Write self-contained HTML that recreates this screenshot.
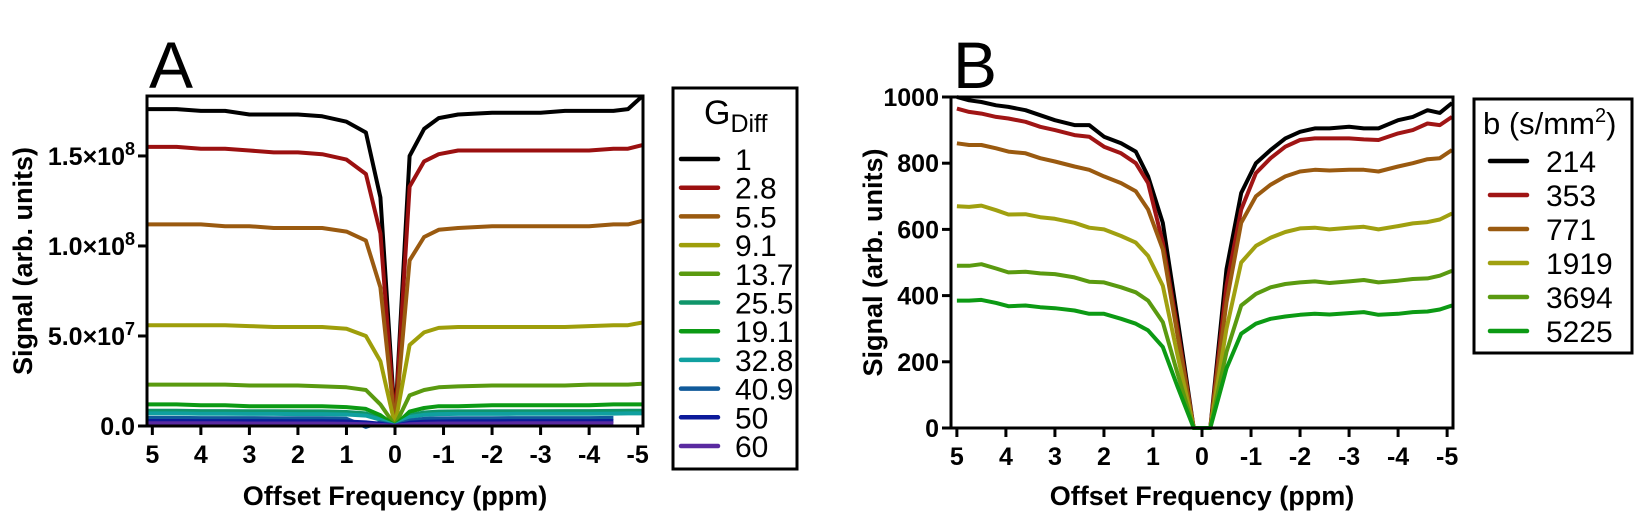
<!DOCTYPE html>
<html><head><meta charset="utf-8"><style>
html,body{margin:0;padding:0;background:#fff}
svg{display:block}
text{font-family:"Liberation Sans",Arial,sans-serif}
.tk{font-weight:bold;font-size:25px}
.ttl{font-weight:bold;font-size:27px}
.lg{font-size:30px}
</style></head><body>
<svg id="c" width="1641" height="521" viewBox="0 0 1641 521">
<g id="gA"></g>
<g id="gB"></g>
</svg>
<script>
// ---------- Panel A data ----------
const xA=[5.1,4.5,4,3.5,3,2.5,2,1.5,1,0.6,0.3,0,-0.3,-0.6,-0.9,-1.3,-2,-2.5,-3,-3.5,-4,-4.5,-4.8,-5.1];
const namesA=["1","2.8","5.5","9.1","13.7","25.5","19.1","32.8","40.9","50","60"];
const colorsA=["#000000","#9b1010","#9a5a10","#9e9e0a","#5a9a10","#10956a","#0c9a14","#10a0a0","#105a9a","#0c1a9a","#5a2aa0"];
const sA1=[1.76,1.76,1.75,1.75,1.73,1.73,1.73,1.72,1.69,1.63,1.27,0.02,1.50,1.65,1.71,1.73,1.74,1.74,1.74,1.75,1.75,1.75,1.76,1.84];
const sA2=[1.55,1.55,1.54,1.54,1.53,1.52,1.52,1.51,1.48,1.40,1.07,0.01,1.33,1.47,1.51,1.53,1.53,1.53,1.53,1.53,1.53,1.54,1.54,1.56];
const sA3=[1.12,1.12,1.12,1.11,1.11,1.10,1.10,1.10,1.08,1.03,0.77,0.01,0.92,1.05,1.09,1.10,1.11,1.11,1.11,1.11,1.11,1.12,1.12,1.14];
const sA4=[0.56,0.56,0.56,0.56,0.555,0.55,0.55,0.55,0.54,0.50,0.36,0.005,0.45,0.52,0.545,0.55,0.55,0.55,0.55,0.55,0.555,0.56,0.56,0.575];
const sA5=[0.23,0.23,0.23,0.23,0.225,0.225,0.225,0.22,0.215,0.20,0.12,0.003,0.17,0.20,0.215,0.22,0.225,0.225,0.225,0.225,0.23,0.23,0.23,0.235];
const sA6=[0.085,0.085,0.083,0.083,0.082,0.082,0.081,0.081,0.078,0.07,0.04,0.002,0.06,0.075,0.08,0.081,0.082,0.082,0.082,0.083,0.083,0.084,0.085,0.085];
const sA7=[0.12,0.12,0.115,0.115,0.11,0.11,0.11,0.11,0.105,0.095,0.06,0.002,0.08,0.10,0.11,0.11,0.115,0.115,0.115,0.115,0.115,0.12,0.12,0.12];
const sA8=[0.07,0.07,0.068,0.068,0.067,0.067,0.066,0.066,0.064,0.058,0.035,0.002,0.05,0.062,0.066,0.067,0.067,0.068,0.068,0.068,0.068,0.069,0.07,0.07];
const sA9=[0.045,0.045,0.044,0.044,0.044,0.043,0.043,0.043,0.04,-0.005,0.02,0.001,0.03,0.04,0.042,0.043,0.043,0.044,0.044,0.044,0.044,0.045,null,null];
const sA10=[0.028,0.028,0.027,0.027,0.027,0.027,0.026,0.026,0.025,0.02,0.012,0.001,0.018,0.024,0.025,0.026,0.026,0.027,0.027,0.027,0.027,0.028,null,null];
const sA11=[0.015,0.015,0.015,0.015,0.014,0.014,0.014,0.014,0.013,0.01,0.006,0.001,0.01,0.013,0.014,0.014,0.014,0.015,0.015,0.015,0.015,0.015,null,null];
const seriesA=[sA1,sA2,sA3,sA4,sA5,sA6,sA7,sA8,sA9,sA10,sA11];
const yTicksA=[0,0.5,1.0,1.5];
const yTickLabA=[["0.0",""],["5.0×10","7"],["1.0×10","8"],["1.5×10","8"]];
const xTicks=[5,4,3,2,1,0,-1,-2,-3,-4,-5];
// ---------- Panel B data ----------
const xB=[5,4.75,4.5,4.2,3.95,3.6,3.3,3,2.6,2.3,2.0,1.65,1.35,1.1,0.8,0.5,0.17,-0.17,-0.5,-0.8,-1.1,-1.4,-1.7,-2,-2.3,-2.6,-3,-3.3,-3.6,-4,-4.3,-4.6,-4.85,-5.1];
const namesB=["214","353","771","1919","3694","5225"];
const colorsB=["#000000","#a01515","#9a5a10","#a0a010","#5a9a10","#0c9a14"];
const sB1=[1000,990,985,975,970,960,945,930,915,915,880,860,835,760,620,330,0,0,480,710,800,840,875,895,905,905,910,905,905,930,940,960,952,982];
const sB2=[965,955,950,940,935,925,910,900,885,880,850,830,800,740,560,300,0,0,430,660,770,815,850,870,875,875,875,872,870,890,900,920,915,940];
const sB3=[860,855,855,845,835,830,815,805,790,780,760,740,715,660,540,280,0,0,380,620,700,735,760,775,780,778,780,780,775,790,800,812,815,840];
const sB4=[670,668,672,658,645,646,637,632,620,605,600,580,560,520,430,220,0,0,300,500,550,575,592,603,605,600,605,608,600,610,618,622,630,648];
const sB5=[490,490,495,482,470,472,467,465,455,442,440,425,410,385,320,165,0,0,230,370,405,425,435,440,443,438,443,447,440,445,450,452,460,475];
const sB6=[385,385,387,378,368,370,365,362,355,345,345,330,315,295,245,125,0,0,180,285,315,330,337,342,345,343,347,350,342,345,350,352,358,370];
const seriesB=[sB1,sB2,sB3,sB4,sB5,sB6];
const yTicksB=[0,200,400,600,800,1000];

const NS="http://www.w3.org/2000/svg";
function mk(parent,tag,attrs,txt){const e=document.createElementNS(NS,tag);for(const k in attrs)e.setAttribute(k,attrs[k]);if(txt!==undefined)e.textContent=txt;parent.appendChild(e);return e;}

function panel(g,o){
  const sx=v=>o.x0+(o.xmax-v)/(o.xmax-o.xmin)*(o.x1-o.x0);
  const sy=v=>o.yb-(v-o.ymin)/(o.ymax-o.ymin)*(o.yb-o.yt);
  o.series.forEach((s,i)=>{
    let d="";let pen=false;
    s.forEach((v,j)=>{if(v===null){pen=false;return;}d+=(pen?"L":"M")+sx(o.xs[j]).toFixed(1)+","+Math.max(o.yt,sy(v)).toFixed(1);pen=true;});
    const p=mk(g,"path",{d:d,fill:"none",stroke:o.colors[i],"stroke-width":4,"stroke-linejoin":"round"});
    
    
  });
  const f=mk(g,"rect",{x:o.x0,y:o.yt,width:o.x1-o.x0,height:o.yb-o.yt,fill:"none",stroke:"#000","stroke-width":3});
  
  
  xTicks.forEach(t=>{
    const x=sx(t);
    mk(g,"line",{x1:x,x2:x,y1:o.yb,y2:o.yb+9,stroke:"#000","stroke-width":3});
    const tx=mk(g,"text",{x:x,y:o.yb+37,"text-anchor":"middle",class:"tk"},String(t));
    
    
  });
  o.yticks.forEach((t,i)=>{
    const y=sy(t);
    mk(g,"line",{x1:o.x0-9,x2:o.x0,y1:y,y2:y,stroke:"#000","stroke-width":3});
    const tx=mk(g,"text",{x:o.x0-12,y:y+9,"text-anchor":"end",class:"tk"});
    
    
    const lab=o.ylab(i);
    if(lab[1]){mk(tx,"tspan",{},lab[0]);mk(tx,"tspan",{dy:-10,"font-size":"18px"},lab[1]);}
    else tx.textContent=lab[0];
  });
  const xt=mk(g,"text",{x:(o.x0+o.x1)/2,y:505,"text-anchor":"middle",class:"ttl"},"Offset Frequency (ppm)");
  
  
  const yt=mk(g,"text",{x:0,y:0,transform:`translate(${o.ytx},${(o.yt+o.yb)/2}) rotate(-90)`,"text-anchor":"middle",class:"ttl"},"Signal (arb. units)");
  
  
  const pl=mk(g,"text",{x:o.x0+2,y:88,"font-size":"66px"},o.letter);
  
  
}

const gA=document.getElementById("gA"), gB=document.getElementById("gB");
panel(gA,{x0:147,x1:643,yt:96,yb:426,xmin:-5.11,xmax:5.11,ymin:0,ymax:1.833,xs:xA,series:seriesA,colors:colorsA,names:namesA,yticks:yTicksA,ylab:i=>yTickLabA[i],ytx:32,letter:"A"});
panel(gB,{x0:951,x1:1453,yt:97,yb:428,xmin:-5.12,xmax:5.12,ymin:0,ymax:1000,xs:xB,series:seriesB,colors:colorsB,names:namesB,yticks:yTicksB,ylab:i=>[String(yTicksB[i]),""],ytx:882,letter:"B"});

function legend(g,o){
  const lg=mk(g,"g",{});
  
  
  mk(lg,"rect",{x:o.x,y:o.y,width:o.w,height:o.h,fill:"#fff",stroke:"#000","stroke-width":3});
  o.title(lg);
  o.names.forEach((n,i)=>{
    const y=o.ry0+i*o.dy;
    const e=mk(lg,"g",{});
    
    
    mk(e,"line",{x1:o.lx,x2:o.lx+37,y1:y,y2:y,stroke:o.colors[i],"stroke-width":4.5,"stroke-linecap":"round"});
    mk(e,"text",{x:o.tx,y:y+11,class:"lg"},n);
  });
}
legend(gA,{name:"legend-gdiff",x:673,y:88,w:124,h:381,names:namesA,colors:colorsA,ry0:159,dy:28.7,lx:681,tx:735,
  title:lg=>{const t=mk(lg,"text",{x:704,y:124,"font-size":"34px"});mk(t,"tspan",{},"G");mk(t,"tspan",{dy:8,"font-size":"25px"},"Diff");}});
legend(gB,{name:"legend-b-value",x:1474,y:99,w:158,h:254,names:namesB,colors:colorsB,ry0:161,dy:34,lx:1490,tx:1546,
  title:lg=>{const t=mk(lg,"text",{x:1483,y:134,"font-size":"31px"});mk(t,"tspan",{},"b (s/mm");mk(t,"tspan",{dy:-12,"font-size":"20px"},"2");mk(t,"tspan",{dy:12},")");}});
</script>
</body></html>
